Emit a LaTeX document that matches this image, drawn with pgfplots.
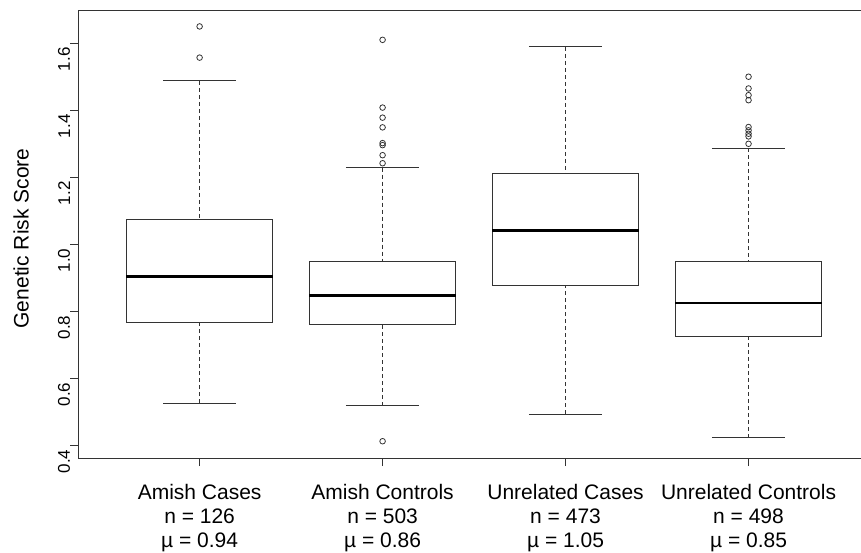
\documentclass[border=0pt]{standalone}
\usepackage{fontspec}
\setmainfont{Liberation Sans}
\usepackage{pgfplots}
\pgfplotsset{compat=1.18}
\usepgfplotslibrary{statistics}
\definecolor{rline}{HTML}{333333}
\begin{document}
\begin{tikzpicture}
\useasboundingbox (0,0) rectangle (861pt,552pt);
\begin{axis}[
  at={(78.3pt,94pt)}, anchor=south west,
  scale only axis, width=791pt, height=448pt,
  xmin=0.337, xmax=4.66, ymin=0.363, ymax=1.699,
  axis line style={draw=rline, line width=0.9pt},
  tick align=outside, tick pos=left, major tick length=8pt,
  tick style={draw=rline, line width=0.9pt},
  xtick={1,2,3,4},
  xticklabels={{Amish Cases\\n = 126\\µ = 0.94},{Amish Controls\\n = 503\\µ = 0.86},{Unrelated Cases\\n = 473\\µ = 1.05},{Unrelated Controls\\n = 498\\µ = 0.85}},
  xticklabel style={align=center, font={\fontsize{21}{24}\selectfont}, inner sep=0pt, yshift=-18pt},
  ytick={0.4,0.6,...,1.6},
  yticklabel style={rotate=90, anchor=south, inner sep=0pt, font={\fontsize{17}{20}\selectfont}, xshift=-16pt},
  /pgf/number format/assume math mode=true,
  /pgf/number format/fixed, /pgf/number format/fixed zerofill, /pgf/number format/precision=1,
  ylabel={Genetic Risk Score},
  ylabel style={at={(axis description cs:-0.0724,0.49)}, rotate=0, anchor=center, font={\fontsize{21}{24}\selectfont}},
  boxplot/draw direction=y,
  boxplot/box extend=0.8,
  boxplot/whisker extend=0.4,
  boxplot/draw/lower whisker/.code={
    \draw[rline, line width=0.9pt, dash pattern=on 4pt off 3pt] (boxplot box cs:\pgfplotsboxplotvalue{lower whisker},0.5) -- (boxplot box cs:\pgfplotsboxplotvalue{lower quartile},0.5);
    \draw[rline, line width=0.9pt] (boxplot whisker cs:\pgfplotsboxplotvalue{lower whisker},0) -- (boxplot whisker cs:\pgfplotsboxplotvalue{lower whisker},1);
  },
  boxplot/draw/upper whisker/.code={
    \draw[rline, line width=0.9pt, dash pattern=on 4pt off 3pt] (boxplot box cs:\pgfplotsboxplotvalue{upper whisker},0.5) -- (boxplot box cs:\pgfplotsboxplotvalue{upper quartile},0.5);
    \draw[rline, line width=0.9pt] (boxplot whisker cs:\pgfplotsboxplotvalue{upper whisker},0) -- (boxplot whisker cs:\pgfplotsboxplotvalue{upper whisker},1);
  },
  boxplot/draw/box/.code={
    \draw[rline, line width=0.9pt] (boxplot box cs:\pgfplotsboxplotvalue{lower quartile},0) rectangle (boxplot box cs:\pgfplotsboxplotvalue{upper quartile},1);
  },
  boxplot/draw/median/.code={
    \draw[black, line width=2.6pt] (boxplot box cs:\pgfplotsboxplotvalue{median},0) -- (boxplot box cs:\pgfplotsboxplotvalue{median},1);
  },
  outl/.style={rline, only marks, mark=o, mark size=2.8pt, mark options={solid, draw=rline, fill=none, line width=0.8pt}},
]
\addplot[outl, boxplot prepared={draw position=1, lower whisker=0.527, lower quartile=0.768, median=0.904, upper quartile=1.075, upper whisker=1.488}]
  table[row sep=\\, y index=0] {1.650\\1.557\\};
\addplot[outl, boxplot prepared={draw position=2, lower whisker=0.519, lower quartile=0.760, median=0.847, upper quartile=0.949, upper whisker=1.229}]
  table[row sep=\\, y index=0] {1.610\\1.408\\1.378\\1.349\\1.302\\1.296\\1.266\\1.242\\0.413\\};
\addplot[outl, boxplot prepared={draw position=3, lower whisker=0.494, lower quartile=0.877, median=1.041, upper quartile=1.2125, upper whisker=1.589}]
  coordinates {};
\addplot[outl, boxplot prepared={draw position=4, lower whisker=0.424, lower quartile=0.725, median=0.825, upper quartile=0.949, upper whisker=1.287}]
  table[row sep=\\, y index=0] {1.500\\1.465\\1.445\\1.430\\1.350\\1.340\\1.330\\1.322\\1.300\\};
\end{axis}
\end{tikzpicture}
\end{document}
